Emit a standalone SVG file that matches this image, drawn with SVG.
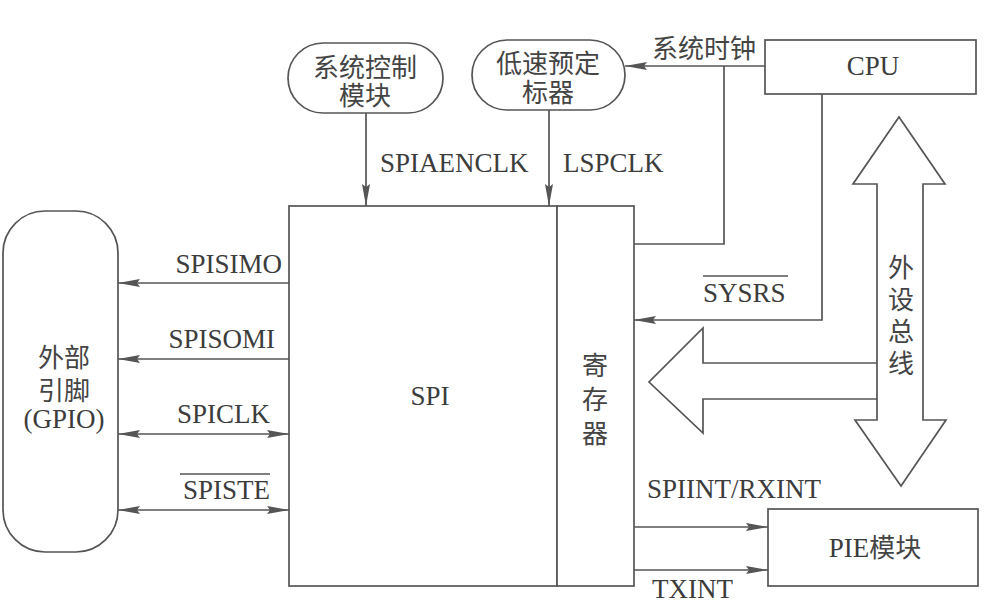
<svg xmlns="http://www.w3.org/2000/svg" width="998" height="607" viewBox="0 0 998 607">
<defs>
<style>
.box{fill:#fff;stroke:#555;stroke-width:1.7}
.ln{fill:none;stroke:#555;stroke-width:1.7}
.ov{fill:none;stroke:#555;stroke-width:1.4}
.big{fill:#fff;stroke:#555;stroke-width:1.7;stroke-linejoin:miter}
.en{font-family:"Liberation Serif","Times New Roman",serif;font-size:27px;fill:#3c3c3c}
.cn{font-family:"Noto Sans CJK SC","Noto Sans",sans-serif;font-size:26px;fill:#444}
.arr{marker-end:url(#ah)}
.dbl{marker-start:url(#ah);marker-end:url(#ah)}
</style>
<marker id="ah" viewBox="0 0 22 8" refX="22" refY="4" markerWidth="22" markerHeight="8" markerUnits="userSpaceOnUse" orient="auto-start-reverse">
<path d="M0,0 L22,4 L0,8 L3,4 z" fill="#555"/>
</marker>
</defs>
<rect width="998" height="607" fill="#fff"/>

<g id="connectors">
<line class="ln arr" x1="366" y1="113" x2="366" y2="206"/>
<line class="ln arr" x1="549" y1="110" x2="549" y2="206"/>
<line class="ln arr" x1="765" y1="66" x2="625" y2="66"/>
<polyline class="ln" points="724,66 724,244 634,244"/>
<polyline class="ln arr" points="822,94 822,320 634,320"/>
<line class="ln arr" x1="289" y1="283" x2="118" y2="283"/>
<line class="ln arr" x1="289" y1="359" x2="118" y2="359"/>
<line class="ln dbl" x1="118" y1="434" x2="289" y2="434"/>
<line class="ln dbl" x1="118" y1="510" x2="289" y2="510"/>
<line class="ln arr" x1="634" y1="527" x2="768" y2="527"/>
<line class="ln arr" x1="634" y1="570" x2="768" y2="570"/>
<polyline class="big" points="877,363 703,363 703,328 649,382 703,433 703,399 877,399"/>
<polygon class="big" points="899,117 945,184 923,184 923,420 946,420 901,486 855,420 877,420 877,184 853,184"/>
<text class="cn" text-anchor="middle" dominant-baseline="central"><tspan x="901" y="265">外</tspan><tspan x="901" y="297">设</tspan><tspan x="901" y="329">总</tspan><tspan x="901" y="361">线</tspan></text>
<text class="en" x="380" y="172">SPIAENCLK</text>
<text class="en" x="563" y="172">LSPCLK</text>
<text class="cn" x="652" y="46" dominant-baseline="central">系统时钟</text>
<text class="en" x="703" y="302">SYSRS</text>
<line class="ov" x1="703" y1="276" x2="788" y2="276"/>
<text class="en" x="282" y="273" text-anchor="end">SPISIMO</text>
<text class="en" x="275" y="348" text-anchor="end">SPISOMI</text>
<text class="en" x="270" y="423" text-anchor="end">SPICLK</text>
<text class="en" x="270" y="499" text-anchor="end">SPISTE</text>
<line class="ov" x1="180" y1="474" x2="270" y2="474"/>
<text class="en" x="647" y="498">SPIINT/RXINT</text>
<text class="en" x="652" y="598">TXINT</text>
</g>

<g id="node-sysctl">
<rect class="box" x="288" y="43" width="155" height="70" rx="35"/>
<text class="cn" text-anchor="middle" dominant-baseline="central"><tspan x="365" y="65">系统控制</tspan><tspan x="365" y="93">模块</tspan></text>
</g>

<g id="node-lsp">
<rect class="box" x="472" y="40" width="153" height="70" rx="35"/>
<text class="cn" text-anchor="middle" dominant-baseline="central"><tspan x="548" y="61">低速预定</tspan><tspan x="548" y="90">标器</tspan></text>
</g>

<g id="node-cpu">
<rect class="box" x="765" y="40" width="211" height="54"/>
<text class="en" x="873" y="75" text-anchor="middle">CPU</text>
</g>

<g id="node-gpio">
<rect class="box" x="3" y="211" width="115" height="341" rx="42"/>
<text class="cn" text-anchor="middle" dominant-baseline="central"><tspan x="64" y="355">外部</tspan><tspan x="64" y="388">引脚</tspan></text>
<text class="en" x="64" y="428" text-anchor="middle">(GPIO)</text>
</g>

<g id="node-spi">
<rect class="box" x="289" y="206" width="268" height="380"/>
<text class="en" x="430" y="405" text-anchor="middle" font-size="28">SPI</text>
</g>

<g id="node-reg">
<rect class="box" x="557" y="206" width="77" height="380"/>
<text class="cn" text-anchor="middle" dominant-baseline="central"><tspan x="595" y="363">寄</tspan><tspan x="595" y="397">存</tspan><tspan x="595" y="431">器</tspan></text>
</g>

<g id="node-pie">
<rect class="box" x="768" y="509" width="210" height="77"/>
<text x="875" y="557" text-anchor="middle"><tspan class="en">PIE</tspan><tspan class="cn">模块</tspan></text>
</g>
</svg>
